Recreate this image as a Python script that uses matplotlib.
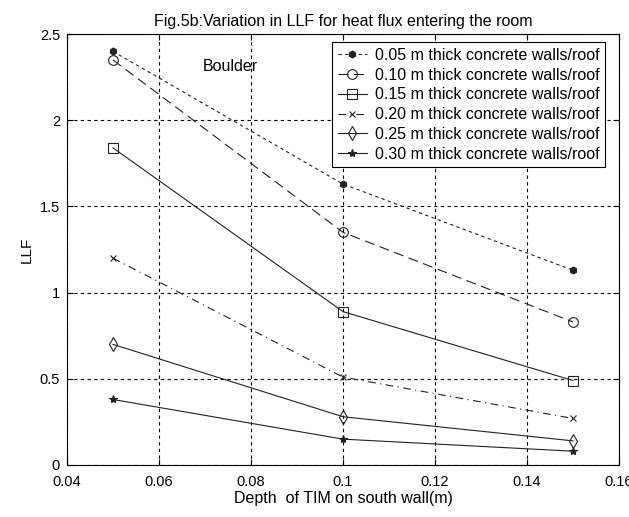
import matplotlib
matplotlib.use('Agg')
import matplotlib.pyplot as plt

plt.rcParams['font.family'] = ['Liberation Sans', 'DejaVu Sans']

depth = [0.05, 0.10, 0.15]
llf_005 = [2.40, 1.63, 1.13]
llf_010 = [2.35, 1.35, 0.83]
llf_015 = [1.84, 0.89, 0.49]
llf_020 = [1.20, 0.51, 0.27]
llf_025 = [0.70, 0.28, 0.14]
llf_030 = [0.38, 0.15, 0.08]

labels = ['0.05 m thick concrete walls/roof',
          '0.10 m thick concrete walls/roof',
          '0.15 m thick concrete walls/roof',
          '0.20 m thick concrete walls/roof',
          '0.25 m thick concrete walls/roof',
          '0.30 m thick concrete walls/roof']

styles = [
    dict(ls=(0, (3, 3)), marker='h', ms=5),
    dict(ls=(0, (9, 5)), marker='o', ms=7, mfc='none'),
    dict(ls='-', marker='s', ms=7, mfc='none'),
    dict(ls=(0, (7, 4, 1, 4)), marker='x', ms=5),
    dict(ls='-', marker='d', ms=7, mfc='none'),
    dict(ls='-', marker='*', ms=6),
]

fig = plt.figure(figsize=(6.29, 5.17), dpi=100)
ax = fig.add_axes([0.1065, 0.1006, 0.8775, 0.8334])

series = [llf_005, llf_010, llf_015, llf_020, llf_025, llf_030]
for vals, lab, st in zip(series, labels, styles):
    ax.plot(depth, vals, color='#222222', lw=0.8, mew=0.8, label=lab, **st)

ax.set_xlim(0.04, 0.16)
ax.set_ylim(0, 2.5)
ax.set_xticks([0.04, 0.06, 0.08, 0.1, 0.12, 0.14, 0.16])
ax.set_xticklabels(['0.04', '0.06', '0.08', '0.1', '0.12', '0.14', '0.16'])
ax.set_yticks([0, 0.5, 1, 1.5, 2, 2.5])
ax.set_yticklabels(['0', '0.5', '1', '1.5', '2', '2.5'])
ax.tick_params(direction='in', labelsize=10.5, length=4, top=True, right=True)
ax.tick_params(axis='x', pad=7)
ax.tick_params(axis='y', pad=5)
ax.grid(True, color='black', ls=(0, (3, 3)), lw=0.8)
for s in ax.spines.values():
    s.set_linewidth(0.8)

ax.set_xlabel('Depth  of TIM on south wall(m)', fontsize=11.5, labelpad=2)
ax.set_ylabel('LLF', fontsize=11)
ax.set_title('Fig.5b:Variation in LLF for heat flux entering the room', fontsize=11.5, pad=6)
ax.text(0.0754, 2.31, 'Boulder', fontsize=11.5, ha='center', va='center')

leg = ax.legend(loc='upper right', bbox_to_anchor=(0.9746, 0.9814), borderaxespad=0,
                fontsize=11.5, frameon=True, fancybox=False,
                edgecolor='black', framealpha=1, borderpad=0.35, labelspacing=0.3,
                handlelength=1.8, handletextpad=0.5)
leg.get_frame().set_linewidth(0.8)

fig.savefig('out.png', dpi=100)
